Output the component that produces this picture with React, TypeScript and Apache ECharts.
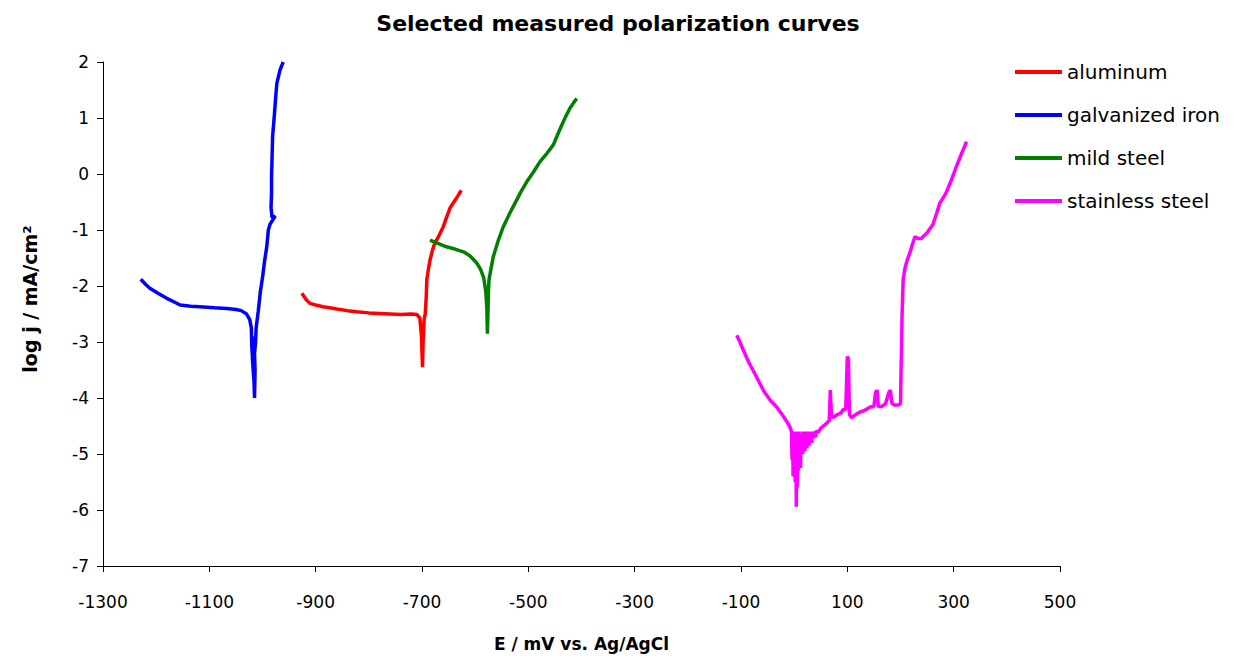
import React, { useEffect, useRef } from "react";
import * as echarts from "echarts";

const seriesNames = ["aluminum", "galvanized iron", "mild steel", "stainless steel"];
const seriesColors = ["#FF0000", "#0000FF", "#008000", "#FF00FF"];

const aluminum: number[][] = [
  [-926, -2.13], [-918, -2.24], [-911, -2.31], [-900, -2.34], [-886, -2.37], [-860, -2.41],
  [-840, -2.44], [-823, -2.46], [-800, -2.48], [-780, -2.49], [-760, -2.5], [-740, -2.51],
  [-720, -2.5], [-710, -2.51], [-704, -2.57], [-701, -2.9], [-700, -3.2], [-699, -3.45],
  [-698, -3.0], [-696, -2.6], [-694, -2.5], [-692, -2.2], [-691, -1.89], [-688, -1.7],
  [-685, -1.54], [-680, -1.35], [-676, -1.24], [-668, -1.1], [-660, -0.94], [-654, -0.78],
  [-647, -0.6], [-640, -0.5], [-633, -0.4], [-626, -0.29],
];

const galvanizedIron: number[][] = [
  [-1229, -1.88], [-1220, -1.97], [-1212, -2.04], [-1195, -2.14], [-1180, -2.22], [-1165, -2.29],
  [-1155, -2.34], [-1135, -2.36], [-1118, -2.37], [-1090, -2.39], [-1067, -2.4], [-1050, -2.42],
  [-1040, -2.44], [-1030, -2.5], [-1024, -2.6], [-1021, -2.75], [-1020, -3.1], [-1018, -3.4],
  [-1017, -2.9], [-1019, -3.3], [-1016, -3.7], [-1015, -4.0], [-1014, -3.5], [-1015, -3.2],
  [-1013, -3.0], [-1012, -2.75], [-1008, -2.45],
  [-1004, -2.1], [-1000, -1.85], [-996, -1.55], [-992, -1.3], [-989, -1.0], [-986, -0.9],
  [-976, -0.75], [-982, -0.78], [-984, -0.6], [-983, -0.35], [-983, -0.05], [-982, 0.3],
  [-981, 0.67], [-979, 0.9], [-977, 1.14], [-975, 1.4], [-973, 1.62], [-967, 1.86], [-961, 2.0],
];

const mildSteel: number[][] = [
  [-685, -1.18], [-670, -1.24], [-654, -1.3], [-638, -1.34], [-622, -1.39], [-610, -1.46],
  [-597, -1.59], [-590, -1.7], [-584, -1.85], [-580, -2.1], [-578, -2.4], [-577, -2.85],
  [-576, -2.5], [-575, -2.1], [-574, -1.89], [-570, -1.68], [-566, -1.48], [-557, -1.2],
  [-547, -0.94], [-535, -0.7], [-525, -0.52], [-514, -0.32], [-503, -0.14], [-490, 0.04],
  [-478, 0.22], [-465, 0.37], [-453, 0.52], [-445, 0.7], [-437, 0.875], [-430, 1.02],
  [-422, 1.17], [-415, 1.27], [-409, 1.35],
];

const stainlessSteel: number[][] = [
  [-108, -2.88], [-102, -3.0], [-96, -3.14], [-85, -3.37], [-71, -3.62], [-57, -3.88],
  [-45, -4.04], [-33, -4.16], [-20, -4.33], [-12, -4.45], [-8, -4.52], [-5, -4.6],
  [-4, -5.1], [-3, -4.65], [-2, -5.4], [-1, -4.62], [0, -5.2], [1, -4.6], [2, -5.5],
  [3, -4.65], [4, -5.94], [5, -4.7], [5.5, -5.0], [6, -5.6], [6.5, -4.62], [7, -5.1],
  [7.5, -4.6], [8, -5.3], [9, -4.65], [10, -5.0], [11, -4.62], [12, -5.25], [13, -4.65],
  [14, -4.95], [15, -4.6], [16, -5.0], [17, -4.65], [18, -4.9], [19, -4.62], [20, -4.95],
  [21, -4.6], [22, -4.85], [23, -4.65], [24, -4.9], [25, -4.62], [26, -4.8], [27, -4.6],
  [28, -4.85], [29, -4.6], [30, -4.75], [31, -4.62], [33, -4.8], [34, -4.6], [36, -4.72],
  [38, -4.6], [40, -4.7], [42, -4.58], [45, -4.62], [49, -4.55], [55, -4.5], [61, -4.45],
  [66, -4.4], [68, -3.86], [70, -4.3], [73, -4.35], [80, -4.3], [88, -4.27], [92, -4.21],
  [97, -4.2], [100, -3.26], [102, -3.3], [104, -4.3], [108, -4.35], [115, -4.3], [124, -4.25],
  [133, -4.22], [143, -4.16], [150, -4.15], [153, -3.9], [156, -3.86], [158, -4.15],
  [165, -4.15], [172, -4.1], [178, -3.9], [181, -3.86], [184, -4.1], [190, -4.13],
  [197, -4.12], [200, -4.1], [201, -3.5], [202, -3.08], [203, -2.5], [205, -1.89],
  [208, -1.7], [211, -1.59], [214, -1.5], [218, -1.4], [221, -1.3], [227, -1.12],
  [233, -1.15], [239, -1.15], [250, -1.05], [261, -0.9], [268, -0.7], [274, -0.52],
  [285, -0.35], [293, -0.17], [300, 0.0], [305, 0.13], [310, 0.25], [315, 0.37],
  [320, 0.48], [324, 0.58],
];

const seriesData = [aluminum, galvanizedIron, mildSteel, stainlessSteel];

const FONT = "DejaVu Sans";

export default function App() {
  const ref = useRef<HTMLDivElement>(null);
  useEffect(() => {
    document.body.style.margin = "0";
    if (!ref.current) return;
    const chart = echarts.init(ref.current, null, { renderer: "svg" });
    chart.setOption({
      animation: false,
      backgroundColor: "#ffffff",
      title: {
        text: "Selected measured polarization curves",
        left: "center",
        top: 7,
        textStyle: { fontFamily: FONT, fontWeight: "bold", fontSize: 22, color: "#000" },
      },
      legend: {
        orient: "vertical",
        left: 1015,
        top: 62,
        padding: 0,
        icon: "rect",
        itemWidth: 47,
        itemHeight: 4,
        itemGap: 23,
        textStyle: { fontFamily: FONT, fontSize: 20, color: "#000" },
        data: seriesNames,
      },
      grid: { left: 103, right: 176, top: 62, bottom: 96 },
      xAxis: {
        type: "value",
        min: -1300,
        max: 500,
        interval: 200,
        name: "E / mV vs. Ag/AgCl",
        nameLocation: "middle",
        nameGap: 69,
        nameTextStyle: { fontFamily: FONT, fontWeight: "bold", fontSize: 17, color: "#000" },
        axisLine: { onZero: false, lineStyle: { color: "#000", width: 1 } },
        axisTick: { show: true, length: 6, lineStyle: { color: "#000" } },
        axisLabel: {
          fontFamily: FONT,
          fontSize: 17,
          color: "#000",
          margin: 27,
          formatter: (v: number) => String(v),
        },
        splitLine: { show: false },
      },
      yAxis: {
        type: "value",
        min: -7,
        max: 2,
        interval: 1,
        name: "log j / mA/cm²",
        nameLocation: "middle",
        nameRotate: 90,
        nameGap: 64,
        nameTextStyle: {
          fontFamily: FONT,
          fontWeight: "bold",
          fontSize: 19,
          color: "#000",
          padding: [0, 0, 0, 30],
        },
        axisLine: { onZero: false, lineStyle: { color: "#000", width: 1 } },
        axisTick: { show: true, length: 6, lineStyle: { color: "#000" } },
        axisLabel: { fontFamily: FONT, fontSize: 17, color: "#000", margin: 14 },
        splitLine: { show: false },
      },
      series: seriesNames.map((name, i) => ({
        name,
        type: "line",
        data: seriesData[i],
        showSymbol: false,
        symbol: "none",
        lineStyle: { color: seriesColors[i], width: 3.5 },
        itemStyle: { color: seriesColors[i] },
      })),
    });
    return () => chart.dispose();
  }, []);
  return <div ref={ref} style={{ width: 1236, height: 662 }} />;
}
